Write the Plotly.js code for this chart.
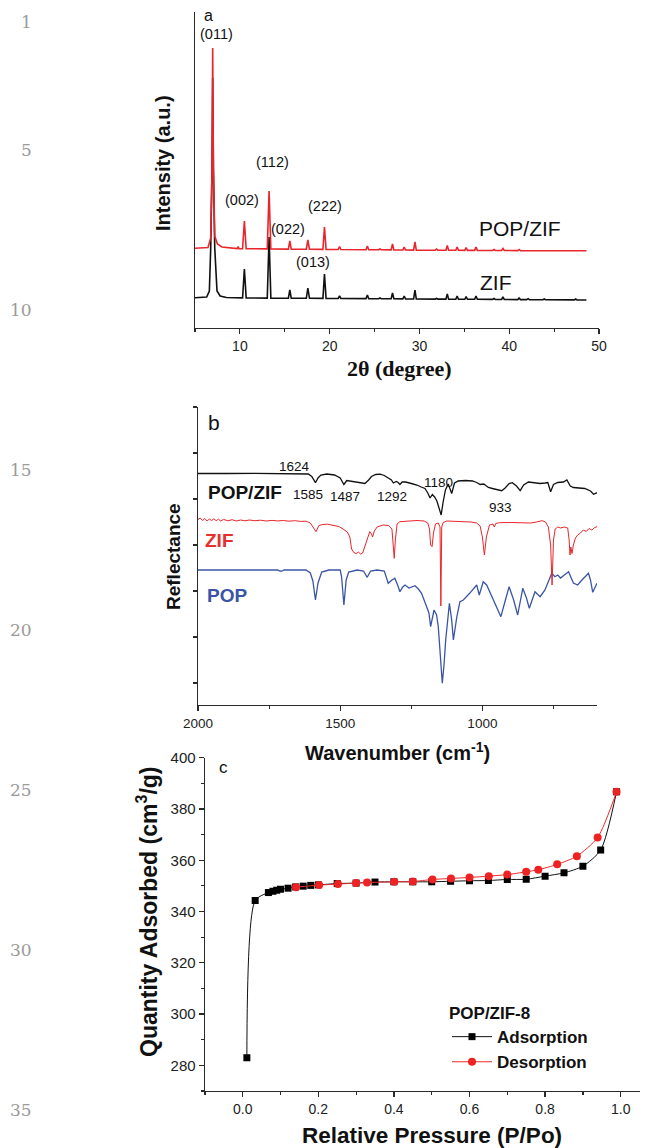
<!DOCTYPE html>
<html>
<head>
<meta charset="utf-8">
<script src="https://cdn.plot.ly/plotly-3.0.1.min.js"></script>
<style>html,body{margin:0;padding:0;background:#fff;}#chart{width:658px;height:1148px;}</style>
</head>
<body>
<div id="chart"></div>
<script>
// ---------- Panel a: XRD ----------
const zifXrdTheta = [5.0, 6.3, 6.6, 6.75, 6.9, 6.97, 7.05, 7.2, 7.45, 7.8, 8.5,
  10.3, 10.5, 10.7, 13.05, 13.25, 13.45, 15.4, 15.56, 15.72, 17.4, 17.57, 17.75, 19.25, 19.42, 19.6,
  20.95, 21.1, 21.25, 24.05, 24.2, 24.35, 25.45, 25.6, 25.75, 26.85, 27.0, 27.15, 28.15, 28.3, 28.45,
  29.35, 29.5, 29.65, 31.75, 31.9, 32.05, 32.95, 33.1, 33.25, 34.05, 34.2, 34.35, 35.05, 35.2, 35.35,
  36.15, 36.3, 36.45, 38.15, 38.3, 38.45, 39.15, 39.3, 39.45, 40.95, 41.1, 41.25, 41.95, 42.1, 42.25,
  43.75, 43.9, 44.05, 47.25, 47.4, 47.55, 48.6];
const zifXrdInt = [30.3, 31, 37, 80, 160, 250, 160, 80, 37, 32, 30.5,
  30.1, 59, 30.1, 29.9, 91, 29.9, 29.8, 38, 29.8, 29.7, 40, 29.7, 29.6, 54, 29.6,
  29.5, 32, 29.5, 29.4, 33, 29.4, 29.3, 30, 29.3, 29.2, 35, 29.2, 29.1, 32, 29.1,
  29.0, 38, 29.0, 28.9, 29.5, 28.9, 28.85, 34, 28.85, 28.8, 32, 28.8, 28.75, 31.3, 28.75,
  28.7, 32, 28.7, 28.6, 29.5, 28.6, 28.5, 31, 28.5, 28.4, 30, 28.4, 28.4, 29.3, 28.4,
  28.2, 29, 28.2, 28.1, 29, 28.1, 28];
const popZifXrdTheta = [5.0, 6.45, 6.75, 6.9, 6.97, 7.05, 7.2, 7.5, 8.0, 9.7, 9.8, 9.9,
  10.3, 10.5, 10.7, 13.05, 13.25, 13.45, 15.4, 15.56, 15.72, 17.4, 17.57, 17.75, 19.25, 19.42, 19.6,
  20.95, 21.1, 21.25, 24.05, 24.2, 24.35, 25.45, 25.6, 25.75, 26.85, 27.0, 27.15, 28.15, 28.3, 28.45,
  29.35, 29.5, 29.65, 31.75, 31.9, 32.05, 32.95, 33.1, 33.25, 34.05, 34.2, 34.35, 35.05, 35.2, 35.35,
  36.15, 36.3, 36.45, 38.15, 38.3, 38.45, 39.15, 39.3, 39.45, 40.95, 41.1, 41.25, 41.95, 42.1, 42.25,
  43.75, 43.9, 44.05, 47.25, 47.4, 47.55, 48.6];
const popZifXrdInt = [79.7, 80.5, 90, 160, 280, 160, 92, 84, 81, 79.4, 81.5, 79.4,
  79.3, 107, 79.3, 79.1, 137, 79.1, 78.9, 87, 78.9, 78.8, 88, 78.8, 78.6, 101, 78.6,
  78.5, 81.5, 78.5, 78.3, 82, 78.3, 78.2, 79, 78.2, 78.1, 84, 78.1, 78.0, 81, 78.0,
  77.9, 86, 77.9, 77.8, 79, 77.8, 77.7, 82.5, 77.7, 77.7, 81, 77.7, 77.6, 80.5, 77.6,
  77.6, 81, 77.6, 77.5, 78.5, 77.5, 77.5, 79.5, 77.5, 77.4, 78.5, 77.4, 77.4, 78, 77.4,
  77.4, 77.8, 77.4, 77.3, 77.8, 77.3, 77.3];
const xrdPeakLabels = ["(011)", "(002)", "(112)", "(022)", "(222)", "(013)"];
const xrdTickVals = [10, 20, 30, 40, 50];

// ---------- Panel b: FTIR ----------
const popZifWn = [2000,1950,1900,1800,1700,1640,1612,1600,1587,1578,
  1568,1547,1520,1500,1487,1477,1465,1450,1430,1413,
  1400,1390,1375,1360,1345,1330,1320,1313,1303,1296,
  1290,1282,1270,1250,1230,1215,1202,1192,1184,1176,
  1168,1160,1152,1145,1138,1130,1120,1108,1098,1085,
  1060,1035,1020,1008,995,979,965,950,932,920,
  906,895,880,867,855,838,815,797,780,770,
  760,750,735,715,703,691,680,660,640,620,
  609,597];
const popZifRefl = [231.5,231.8,231.5,231.7,231.6,231.5,231,228.5,222.3,227,
  230,231,230,227,220.5,224.5,224,223,222,221.5,
  225,228.5,230.5,230.8,229.5,227,225,222,223.5,222.5,
  220.5,223,223,221.5,220,218,216.5,212,207,210.5,
  208,204,197,190,203,215,221,211.5,222,224,
  224.5,224,222.5,220.5,221,217.5,216.5,215.5,214.3,217,
  221.5,222.3,219,214.3,220,223,222,221.5,222,222.5,
  213.3,220.5,222.5,223,225,219,217.5,216.7,216.5,214,
  210.7,212.3];
const zifWn = [2000,1992,1984,1976,1968,1960,1952,1944,1936,1928,
  1920,1910,1895,1880,1865,1850,1835,1820,1800,1780,
  1760,1740,1720,1700,1680,1660,1640,1620,1605,1595,
  1585,1575,1562,1545,1525,1505,1490,1475,1466,1460,
  1452,1444,1436,1428,1421,1414,1405,1396,1390,1386,
  1380,1370,1350,1330,1318,1313,1310,1306,1300,1290,
  1260,1230,1205,1192,1186,1182,1177,1172,1165,1155,
  1149,1146,1143,1138,1125,1100,1070,1040,1020,1008,
  1000,993,986,975,963,958,953,940,900,860,
  830,810,790,778,768,760,755,750,744,735,
  725,712,700,695,692,689,685,680,673,665,
  655,645,635,625,615,605,597];
const zifRefl = [185.5,187,184.5,186.5,184,186,184.5,186.2,184.3,185.8,
  184,185.6,184.2,185.3,184,185,184.2,185,184.3,184.8,
  184,184.6,184.1,184.5,183.8,184.3,183.6,183.8,182,178,
  173.3,179.5,180.5,180.8,180,178.5,176,173,168,156,
  152.5,151.5,152.8,151,152,158,167,173.3,171,168,
  174,178,180,179.5,176,160,146.7,165,181,183.3,
  184,184.5,184,182,176,160,158.3,172,181,182,
  178,99,178,182.5,184,183.8,183.5,183,182,179,
  168,150,168,180,181,178,181.5,182.3,182.5,182,
  182,183,184.3,183,178,160,120,165,176,178,
  177,178,177,165,150,158,151.5,160,167,170,
  172,175,173.5,176.5,175,177.5,178.3];
const popWn = [2000,1900,1800,1720,1712,1705,1698,1620,1605,1596,
  1587,1578,1565,1540,1500,1495,1487,1479,1470,1440,
  1418,1405,1393,1370,1345,1331,1318,1308,1298,1290,
  1280,1272,1258,1237,1225,1214,1196,1188,1182,1176,
  1170,1161,1155,1148,1141,1135,1129,1116,1108,1102,
  1090,1079,1067,1045,1020,1011,997,985,962,935,
  920,906,890,876,858,845,835,815,797,780,
  756,745,735,725,712,697,680,665,650,627,
  620,612,597];
const popRefl = [135,135.2,135,135,134,133.8,135,135,132,124,
  105,122,133,135,135,128,100,125,133,135,
  134,127.7,134,135,134,121.7,125,126.7,120,113.3,
  118,120,117,119.3,116,111.7,98.3,92,78.3,86,
  95,90,78,50,21.7,40,65,101.7,85,65,
  88,103.3,105,111.7,120,110,123.3,120,105,88.3,
  104,118.3,105,90,116.7,107,96.7,113.3,108.3,115,
  131.7,128.3,130,127,130,133.3,122,120,125,131.7,
  125,112.7,121.7];
const ftirBandLabels = ["1624", "1585", "1487", "1292", "1180", "933"];
const ftirTickVals = [2000, 1500, 1000];

// ---------- Panel c: N2 isotherm ----------
const adsP = [0.011, 0.033, 0.068, 0.08, 0.09, 0.1, 0.12, 0.14, 0.16, 0.18, 0.2, 0.25, 0.3, 0.35,
  0.4, 0.45, 0.5, 0.55, 0.6, 0.65, 0.7, 0.75, 0.8, 0.85, 0.9, 0.947, 0.989];
const adsQ = [283.0, 344.3, 347.4, 347.9, 348.3, 348.7, 349.1, 349.6, 349.9, 350.2, 350.4, 350.9, 351.1, 351.5,
  351.6, 351.6, 351.6, 351.8, 352.0, 352.1, 352.5, 352.6, 353.8, 355.1, 357.7, 364.0, 386.7];
const desP = [0.989, 0.939, 0.884, 0.832, 0.782, 0.75, 0.7, 0.651, 0.6, 0.551, 0.502, 0.45, 0.401,
  0.329, 0.3, 0.252, 0.202, 0.141];
const desQ = [386.7, 368.9, 361.6, 358.4, 356.3, 355.5, 354.4, 353.8, 353.3, 352.9, 352.5, 351.7, 351.6,
  351.3, 351.1, 350.7, 350.3, 349.5];
const isoTickVals = [0, 0.2, 0.4, 0.6, 0.8, 1.0];
const lineNumbers = ["1", "5", "10", "15", "20", "25", "30", "35"];

// ---------- layout helpers ----------
const W = 658, H = 1148;
const SANS = "Liberation Sans, Arial, sans-serif";
const SERIF = "Liberation Serif, Times New Roman, serif";
const RED = "#e8262b", BLUE = "#3b55a6", AX = "#2a2a2a";
const px = x => x / W, py = y => 1 - y / H;
function ann(text, x, y, size, opt) {
  return Object.assign({
    text: text, x: px(x), y: py(y), xref: "paper", yref: "paper",
    showarrow: false, xanchor: "center", yanchor: "middle",
    font: {family: SANS, size: size, color: "#111"}
  }, opt || {});
}

const traces = [
  {x: zifXrdTheta, y: zifXrdInt, xaxis: "x", yaxis: "y", mode: "lines",
   line: {color: "#111", width: 1.6}, showlegend: false, hoverinfo: "skip"},
  {x: popZifXrdTheta, y: popZifXrdInt, xaxis: "x", yaxis: "y", mode: "lines",
   line: {color: RED, width: 1.6}, showlegend: false, hoverinfo: "skip"},
  {x: popWn, y: popRefl, xaxis: "x2", yaxis: "y2", mode: "lines",
   line: {color: BLUE, width: 1.3}, showlegend: false, hoverinfo: "skip"},
  {x: popZifWn, y: popZifRefl, xaxis: "x2", yaxis: "y2", mode: "lines",
   line: {color: "#111", width: 1.3}, showlegend: false, hoverinfo: "skip"},
  {x: zifWn, y: zifRefl, xaxis: "x2", yaxis: "y2", mode: "lines",
   line: {color: RED, width: 1.0}, showlegend: false, hoverinfo: "skip"},
  {x: adsP, y: adsQ, xaxis: "x3", yaxis: "y3", mode: "lines+markers", name: "<b>Adsorption</b>",
   line: {color: "#111", width: 1, shape: "spline", smoothing: 0.7},
   marker: {symbol: "square", size: 7, color: "#000"}},
  {x: desP, y: desQ, xaxis: "x3", yaxis: "y3", mode: "lines+markers", name: "<b>Desorption</b>",
   line: {color: "#ee2a2a", width: 1, shape: "spline", smoothing: 0.7},
   marker: {symbol: "circle", size: 8, color: "#ee2222"}}
];

const baseAxis = {showgrid: false, zeroline: false, showline: true, linecolor: AX, linewidth: 1.3,
  tickcolor: AX, tickwidth: 1.2, fixedrange: true};

const layout = {
  width: W, height: H, margin: {l: 0, r: 0, t: 0, b: 0},
  paper_bgcolor: "#fff", plot_bgcolor: "rgba(0,0,0,0)",
  font: {family: SANS, color: "#222", size: 14},
  xaxis: Object.assign({}, baseAxis, {domain: [px(195), px(599)], range: [5, 50], anchor: "y",
    tickmode: "array", tickvals: xrdTickVals, ticks: "outside", ticklen: 5,
    minor: {ticks: "outside", ticklen: 3, dtick: 5, tick0: 0, tickcolor: AX},
    tickfont: {size: 14, color: "#222"}}),
  yaxis: Object.assign({}, baseAxis, {domain: [py(328), py(12)], range: [0, 316], anchor: "x",
    ticks: "", showticklabels: false}),
  xaxis2: Object.assign({}, baseAxis, {domain: [px(198), px(597)], range: [2000, 597], anchor: "y2",
    tickmode: "array", tickvals: ftirTickVals, ticks: "outside", ticklen: 5,
    minor: {ticks: "outside", ticklen: 3, dtick: 250, tick0: 0, tickcolor: AX},
    tickfont: {size: 13.5, color: "#222"}}),
  yaxis2: Object.assign({}, baseAxis, {domain: [py(705), py(407)], range: [0, 298], anchor: "x2",
    ticks: "outside", ticklen: 4, tick0: 22, dtick: 46, showticklabels: false}),
  xaxis3: Object.assign({}, baseAxis, {domain: [px(204.9), px(639.6)], range: [-0.1, 1.05], anchor: "y3",
    tickmode: "array", tickvals: isoTickVals, ticktext: isoTickVals.map(v => v.toFixed(1)),
    ticks: "outside", ticklen: 5,
    minor: {ticks: "outside", ticklen: 3, dtick: 0.1, tick0: 0, tickcolor: AX},
    tickfont: {size: 14, color: "#222"}}),
  yaxis3: Object.assign({}, baseAxis, {domain: [py(1091), py(757.7)], range: [270, 400], anchor: "x3",
    tick0: 280, dtick: 20, ticks: "outside", ticklen: 5,
    minor: {ticks: "outside", ticklen: 3, dtick: 10, tick0: 0, tickcolor: AX},
    tickfont: {size: 15, color: "#222"}}),
  showlegend: true,
  legend: {x: px(447), y: py(997), xanchor: "left", yanchor: "top", bgcolor: "rgba(0,0,0,0)",
    font: {family: SANS, size: 17, color: "#111"}, itemwidth: 40, tracegroupgap: 0,
    title: {text: "<b>POP/ZIF-8</b>", font: {family: SANS, size: 17, color: "#111"}}},
  annotations: []
};

const A = layout.annotations;
// line numbers in margin
lineNumbers.forEach((t) => {
  A.push(ann(t, 34, 22 + (parseInt(t, 10) - 1) * 32, 17,
    {xanchor: "right", font: {family: "DejaVu Serif, serif", size: 17, color: "#9a9a9a"}}));
});
// panel a
A.push(ann("a", 209, 16, 16));
const xrdLabelPos = [[217, 34], [242, 200], [272, 162], [288, 229], [325, 206], [313, 262]];
xrdPeakLabels.forEach((t, i) => A.push(ann(t, xrdLabelPos[i][0], xrdLabelPos[i][1], 14.5)));
A.push(ann("POP/ZIF", 520, 228, 21));
A.push(ann("ZIF", 496, 282, 21));
A.push(ann("<b>Intensity (a.u.)</b>", 163, 163, 20, {textangle: -90}));
A.push(ann("<b>2θ (degree)</b>", 399, 368, 22, {font: {family: SERIF, size: 22, color: "#111"}}));
// panel b
A.push(ann("b", 214, 422, 21));
const ftirLabelPos = [[294, 466], [308, 494], [345, 497], [392, 497], [438, 483], [500, 508]];
ftirBandLabels.forEach((t, i) => A.push(ann(t, ftirLabelPos[i][0], ftirLabelPos[i][1], 13.5)));
A.push(ann("<b>POP/ZIF</b>", 245, 493, 19));
A.push(ann("<b>ZIF</b>", 219, 540, 19, {font: {family: SANS, size: 19, color: "#e53030"}}));
A.push(ann("<b>POP</b>", 227, 595, 19, {font: {family: SANS, size: 19, color: BLUE}}));
A.push(ann("<b>Reflectance</b>", 173, 557, 19, {textangle: -90}));
A.push(ann("<b>Wavenumber (cm<sup>-1</sup>)</b>", 397, 751, 20));
// panel c
A.push(ann("c", 223, 767, 17));
A.push(ann("<b>Quantity Adsorbed (cm<sup>3</sup>/g)</b>", 147, 912, 23, {textangle: -90}));
A.push(ann("<b>Relative Pressure (P/Po)</b>", 432, 1135, 22.5));

Plotly.newPlot("chart", traces, layout, {staticPlot: true, displayModeBar: false});
</script>
</body>
</html>
